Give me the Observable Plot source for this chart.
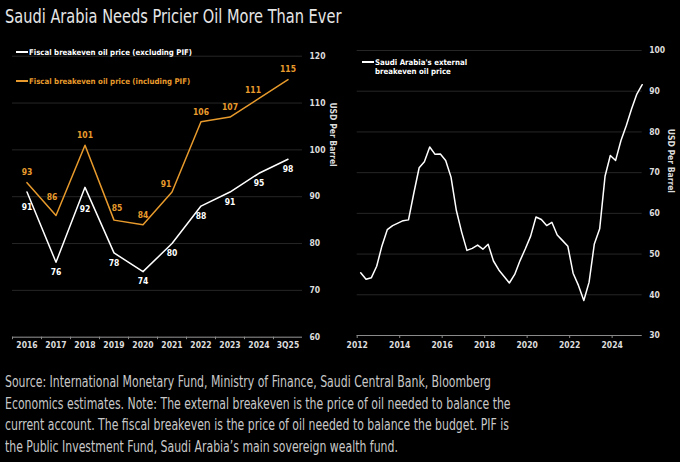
<!DOCTYPE html>
<html>
<head>
<meta charset="utf-8">
<script src="https://cdn.jsdelivr.net/npm/d3@7"></script>
<script src="https://cdn.jsdelivr.net/npm/@observablehq/plot@0.6"></script>
<style>
  html, body { margin: 0; padding: 0; background: #000; }
  body { width: 680px; height: 462px; overflow: hidden; position: relative; }
  #title { position: absolute; left: 5px; top: 5px; font-family: "DejaVu Sans Condensed", "DejaVu Sans", sans-serif; font-size: 19px; color: #e6e6e6; white-space: nowrap; transform: scaleX(0.853); transform-origin: left top; }
  #left { position: absolute; left: 0; top: 40px; }
  #right { position: absolute; left: 340px; top: 40px; }
  .legend { position: absolute; font-family: "DejaVu Sans Condensed", "DejaVu Sans", sans-serif; font-weight: bold; font-size: 7.8px; line-height: 9px; white-space: nowrap; }
  .legend .sw { display: inline-block; width: 12px; height: 1.5px; vertical-align: middle; margin-right: 1px; position: relative; top: -1px; }
  #caption { position: absolute; left: 5px; top: 372px; font-family: "DejaVu Sans Condensed", "DejaVu Sans", sans-serif; font-size: 15.5px; line-height: 21.7px; color: #c8c8c8; white-space: nowrap; transform: scaleX(0.782); transform-origin: left top; }
</style>
</head>
<body>
<div id="title">Saudi Arabia Needs Pricier Oil More Than Ever</div>
<div id="left"></div>
<div id="right"></div>
<div class="legend" style="left:16px; top:48px; color:#ffffff;"><span class="sw" style="background:#ffffff"></span>Fiscal breakeven oil price (excluding PIF)</div>
<div class="legend" style="left:16px; top:77px; color:#e89b2c;"><span class="sw" style="background:#e89b2c"></span>Fiscal breakeven oil price (including PIF)</div>
<div class="legend" style="left:362px; top:58px; color:#ffffff;"><span class="sw" style="background:#ffffff"></span>Saudi Arabia's external<br><span style="padding-left:13px">breakeven oil price</span></div>
<div id="caption">Source: International Monetary Fund, Ministry of Finance, Saudi Central Bank, Bloomberg<br>Economics estimates. Note: The external breakeven is the price of oil needed to balance the<br>current account. The fiscal breakeven is the price of oil needed to balance the budget. PIF is<br>the Public Investment Fund, Saudi Arabia’s main sovereign wealth fund.</div>
<script>
// ---- Left chart data ----
const years = ["2016","2017","2018","2019","2020","2021","2022","2023","2024","3Q25"];
const fiscalExPIF = [91,76,92,78,74,80,88,91,95,98];
const fiscalInPIF = [93,86,101,85,84,91,106,107,111,115];
const leftTicks = [60,70,80,90,100,110,120];

// ---- Right chart data (quarterly) ----
const quarters = [
  "2012-03","2012-06","2012-09","2012-12",
  "2013-03","2013-06","2013-09","2013-12",
  "2014-03","2014-06","2014-09","2014-12",
  "2015-03","2015-06","2015-09","2015-12",
  "2016-03","2016-06","2016-09","2016-12",
  "2017-03","2017-06","2017-09","2017-12",
  "2018-03","2018-06","2018-09","2018-12",
  "2019-03","2019-06","2019-09","2019-12",
  "2020-03","2020-06","2020-09","2020-12",
  "2021-03","2021-06","2021-09","2021-12",
  "2022-03","2022-06","2022-09","2022-12",
  "2023-03","2023-06","2023-09","2023-12",
  "2024-03","2024-06","2024-09","2024-12",
  "2025-03","2025-06"
];
const externalBreakeven = [
  45.4,43.8,44.2,47.0,
  52.0,56.0,57.0,57.6,
  58.2,58.4,65.0,71.2,
  72.7,76.3,74.5,74.6,
  73.0,68.9,60.7,55.4,
  50.9,51.4,52.2,51.2,
  52.4,48.3,46.1,44.5,
  42.9,45.0,48.4,51.3,
  54.4,59.1,58.5,57.0,
  57.8,54.7,53.3,51.9,
  45.3,42.3,38.6,43.1,
  52.5,56.2,69.1,74.2,
  73.0,77.9,81.6,85.7,
  89.3,91.6
];
const rightTicks = [30,40,50,60,70,80,90,100];
const rightYearTicks = ["2012","2014","2016","2018","2020","2022","2024"];
const yLabel = "USD Per Barrel";

const ORANGE = "#e89b2c";
const FONT = "DejaVu Sans Condensed, DejaVu Sans, sans-serif";
const GRID = "#262626";
const AXIS = "#8a8a8a";
const TICKTXT = "#dcdcdc";

const exRows = years.map((y, i) => ({year: y, value: fiscalExPIF[i], i}));
const inRows = years.map((y, i) => ({year: y, value: fiscalInPIF[i], i}));

const left = Plot.plot({
  width: 340, height: 318,
  marginLeft: 12, marginRight: 38, marginTop: 15.7, marginBottom: 21.3,
  style: {background: "transparent", fontFamily: FONT, fontSize: "8.5px", fontWeight: "bold"},
  x: {type: "band", domain: years, padding: 0},
  y: {domain: [60, 120]},
  marks: [
    Plot.gridY(leftTicks, {stroke: GRID, strokeOpacity: 1}),
    Plot.ruleY([60], {stroke: AXIS}),
    Plot.axisX({tickSize: 2.5, tickFormat: () => "", dx: -14.5, stroke: AXIS}),
    Plot.axisX({tickSize: 0, tickPadding: 5, fill: TICKTXT, label: null}),
    Plot.axisY(leftTicks, {anchor: "right", tickSize: 0, tickPadding: 7, fill: TICKTXT, label: null}),
    Plot.text([yLabel], {frameAnchor: "right", rotate: 90, dx: 30, dy: -30, fill: TICKTXT}),
    Plot.line(inRows, {x: "year", y: "value", stroke: ORANGE, strokeWidth: 1.5}),
    Plot.line(exRows, {x: "year", y: "value", stroke: "#ffffff", strokeWidth: 1.5}),
    Plot.text(inRows, {filter: d => ![1, 3, 5, 8].includes(d.i), x: "year", y: "value", text: d => String(d.value), dy: -10, fill: ORANGE}),
    Plot.text(inRows, {filter: d => d.i === 1, x: "year", y: "value", text: d => String(d.value), dy: -18, dx: -4, fill: ORANGE}),
    Plot.text(inRows, {filter: d => d.i === 3, x: "year", y: "value", text: d => String(d.value), dy: -12, dx: 3, fill: ORANGE}),
    Plot.text(inRows, {filter: d => d.i === 5 || d.i === 8, x: "year", y: "value", text: d => String(d.value), dy: -8, dx: -6, fill: ORANGE}),
    Plot.text(exRows, {filter: d => d.i !== 0 && d.i !== 2, x: "year", y: "value", text: d => String(d.value), dy: 10, fill: "#ffffff"}),
    Plot.text(exRows, {filter: d => d.i === 0, x: "year", y: "value", text: d => String(d.value), dy: 15, fill: "#ffffff"}),
    Plot.text(exRows, {filter: d => d.i === 2, x: "year", y: "value", text: d => String(d.value), dy: 22, fill: "#ffffff"})
  ]
});
document.getElementById("left").appendChild(left);

const extRows = quarters.map((q, i) => ({date: new Date(q + "-01"), value: externalBreakeven[i]}));

const right = Plot.plot({
  width: 340, height: 318,
  marginLeft: 16.7, marginRight: 38.3, marginTop: 10, marginBottom: 23,
  style: {background: "transparent", fontFamily: FONT, fontSize: "8.5px", fontWeight: "bold"},
  x: {type: "utc", domain: [new Date("2012-01-01"), new Date(quarters[quarters.length - 1] + "-01")]},
  y: {domain: [30, 100]},
  marks: [
    Plot.gridY(rightTicks, {stroke: GRID, strokeOpacity: 1}),
    Plot.ruleY([30], {stroke: AXIS}),
    Plot.axisX(rightYearTicks.map(y => new Date(y + "-01-01")), {tickSize: 3, tickPadding: 3.5, tickFormat: "%Y", stroke: AXIS, fill: TICKTXT, label: null}),
    Plot.axisY(rightTicks, {anchor: "right", tickSize: 0, tickPadding: 7, fill: TICKTXT, label: null}),
    Plot.text([yLabel], {frameAnchor: "right", rotate: 90, dx: 28.5, dy: 0, fill: TICKTXT}),
    Plot.line(extRows, {x: "date", y: "value", stroke: "#ffffff", strokeWidth: 1.5})
  ]
});
document.getElementById("right").appendChild(right);
</script>
</body>
</html>
